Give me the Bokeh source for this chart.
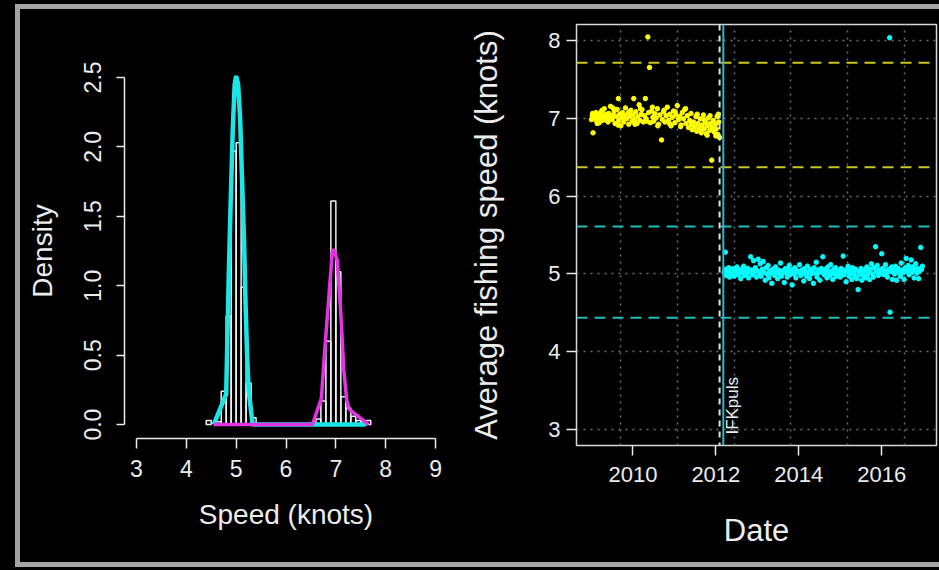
import math
from bokeh.plotting import figure
from bokeh.models import FixedTicker, Row, Column, Span
from bokeh.core.properties import value
from bokeh.embed import file_html
from bokeh.resources import INLINE

FONT = "Liberation Sans"
TXT = "#ececec"

# ---------------- Left panel data (histogram of speeds + fitted densities)
hist_left = [4.4, 4.6, 4.7, 4.8, 4.9, 5.0, 5.1, 5.2, 5.3,
             6.5, 6.6, 6.7, 6.8, 6.9, 7.0, 7.1, 7.2, 7.3, 7.4, 7.5, 7.6]
hist_density = [0.03, 0.02, 0.24, 0.78, 1.97, 2.03, 0.99, 0.30, 0.05,
                0.01, 0.04, 0.17, 0.60, 1.61, 1.10, 0.20, 0.12, 0.06, 0.03, 0.02, 0.03]
bin_width = 0.1

cyan_curve_x = [4.55, 4.80, 4.82, 4.85, 4.89, 4.93, 4.97, 5.00, 5.04, 5.08, 5.12, 5.16, 5.19, 5.22, 5.25, 5.33, 6.50, 7.60]
cyan_curve_y = [0.00, 0.22, 0.55, 1.05, 1.60, 2.10, 2.45, 2.51, 2.45, 2.20, 1.75, 1.30, 0.85, 0.50, 0.25, 0.00, 0.00, 0.00]

magenta_curve_x = [4.55, 6.53, 6.71, 6.78, 6.86, 6.93, 6.96, 7.03, 7.10, 7.16, 7.22, 7.27, 7.66]
magenta_curve_y = [0.00, 0.00, 0.19, 0.55, 0.92, 1.25, 1.26, 1.18, 0.80, 0.39, 0.17, 0.11, 0.00]

left_xticks = [3, 4, 5, 6, 7, 8, 9]
left_yticks = [0, 0.5, 1.0, 1.5, 2.0, 2.5]
left_ytick_labels = ["0.0", "0.5", "1.0", "1.5", "2.0", "2.5"]

# ---------------- Right panel data (average fishing speed over time)
yellow_year = [2009.00, 2009.02, 2009.04, 2009.05, 2009.07, 2009.09, 2009.11, 2009.13, 2009.15, 2009.17,
               2009.19, 2009.21, 2009.23, 2009.25, 2009.27, 2009.29, 2009.31, 2009.33, 2009.35, 2009.37,
               2009.40, 2009.42, 2009.44, 2009.46, 2009.48, 2009.50, 2009.53, 2009.55, 2009.57, 2009.60,
               2009.62, 2009.65, 2009.66, 2009.68, 2009.71, 2009.73, 2009.75, 2009.78, 2009.80, 2009.82,
               2009.85, 2009.88, 2009.90, 2009.93, 2009.95, 2009.98, 2010.00, 2010.02, 2010.04, 2010.07,
               2010.10, 2010.12, 2010.15, 2010.17, 2010.20, 2010.22, 2010.25, 2010.28, 2010.30, 2010.32,
               2010.36, 2010.38, 2010.40, 2010.42, 2010.45, 2010.48, 2010.50, 2010.53, 2010.56, 2010.59,
               2010.62, 2010.65, 2010.69, 2010.71, 2010.74, 2010.77, 2010.80, 2010.83, 2010.86, 2010.89,
               2010.92, 2010.95, 2010.98, 2011.01, 2011.04, 2011.07, 2011.10, 2011.13, 2011.16, 2011.19,
               2011.22, 2011.25, 2011.28, 2011.31, 2011.34, 2011.37, 2011.40, 2011.43, 2011.46, 2011.49,
               2011.52, 2011.54, 2011.57, 2011.60, 2011.62, 2011.65, 2011.67, 2011.70, 2011.72, 2011.75,
               2011.77, 2011.80, 2011.82, 2011.85, 2011.87, 2011.90, 2011.91, 2011.94, 2011.96, 2011.99,
               2012.01, 2012.03, 2012.05, 2012.07, 2012.09,
               2009.03, 2009.14, 2009.26, 2009.38, 2009.52, 2009.64, 2009.77, 2009.91, 2010.05, 2010.18,
               2010.33, 2010.47, 2010.60, 2010.75, 2010.88, 2011.02, 2011.15, 2011.27, 2011.41, 2011.55,
               2011.63, 2011.71, 2011.79, 2011.86, 2011.93, 2012.00, 2012.06]
yellow_speed = [6.98, 7.03, 6.81, 7.05, 6.99, 7.02, 7.07, 6.96, 7.01, 7.04,
                6.94, 7.00, 7.08, 7.02, 6.97, 7.03, 7.12, 6.99, 7.05, 7.01,
                6.95, 7.06, 7.00, 7.15, 7.03, 6.98, 7.04, 7.09, 6.93, 7.02,
                7.11, 7.25, 6.97, 7.05, 6.90, 7.01, 7.07, 6.95, 7.03, 7.13,
                6.99, 7.06, 6.92, 7.02, 7.10, 6.96, 7.04, 7.25, 6.98, 7.08,
                6.93, 7.02, 7.17, 6.97, 7.05, 7.11, 6.95, 7.03, 7.25, 6.99,
                8.04, 7.07, 7.65, 6.94, 7.09, 7.01, 6.96, 7.06, 7.00, 7.12,
                6.92, 7.04, 6.72, 6.98, 7.08, 6.95, 7.03, 7.14, 6.97, 7.05,
                6.90, 7.01, 7.09, 6.94, 7.04, 7.16, 6.98, 7.02, 6.91, 7.07,
                6.99, 7.11, 6.93, 7.03, 6.88, 6.97, 7.06, 6.85, 6.95, 6.89,
                7.02, 6.83, 6.93, 6.87, 6.99, 6.81, 6.91, 7.04, 6.86, 6.95,
                6.80, 6.90, 7.00, 6.84, 6.93, 6.46, 6.88, 6.97, 6.82, 6.92,
                6.86, 7.02, 6.79, 6.95, 6.75,
                7.06, 6.93, 7.10, 6.97, 7.13, 6.91, 7.00, 7.08, 6.92, 7.12,
                6.96, 7.14, 6.90, 7.10, 6.93, 7.08, 6.89, 7.12, 6.92, 7.05,
                6.84, 6.98, 6.78, 7.03, 6.85, 6.77, 7.05]

cyan_year = [2012.20, 2012.22, 2012.23, 2012.25, 2012.27, 2012.29, 2012.31, 2012.33, 2012.35, 2012.37,
             2012.40, 2012.42, 2012.44, 2012.46, 2012.48, 2012.51, 2012.53, 2012.55, 2012.58, 2012.60,
             2012.62, 2012.65, 2012.67, 2012.69, 2012.72, 2012.74, 2012.77, 2012.79, 2012.81, 2012.84,
             2012.86, 2012.88, 2012.91, 2012.93, 2012.95, 2012.98, 2013.00, 2013.02, 2013.05, 2013.07,
             2013.09, 2013.12, 2013.14, 2013.16, 2013.19, 2013.21, 2013.23, 2013.26, 2013.28, 2013.30,
             2013.33, 2013.35, 2013.37, 2013.40, 2013.42, 2013.44, 2013.47, 2013.49, 2013.51, 2013.54,
             2013.56, 2013.58, 2013.61, 2013.63, 2013.65, 2013.68, 2013.70, 2013.72, 2013.75, 2013.77,
             2013.79, 2013.82, 2013.84, 2013.86, 2013.89, 2013.91, 2013.93, 2013.96, 2014.00, 2014.02,
             2014.05, 2014.07, 2014.09, 2014.12, 2014.14, 2014.16, 2014.19, 2014.21, 2014.23, 2014.26,
             2014.28, 2014.30, 2014.33, 2014.35, 2014.37, 2014.40, 2014.42, 2014.44, 2014.47, 2014.49,
             2014.51, 2014.54, 2014.56, 2014.58, 2014.61, 2014.63, 2014.65, 2014.68, 2014.70, 2014.72,
             2014.75, 2014.77, 2014.79, 2014.82, 2014.84, 2014.86, 2014.89, 2014.91, 2014.93, 2014.96,
             2015.00, 2015.02, 2015.05, 2015.07, 2015.09, 2015.12, 2015.14, 2015.16, 2015.19, 2015.21,
             2015.23, 2015.26, 2015.28, 2015.30, 2015.33, 2015.35, 2015.37, 2015.40, 2015.43, 2015.45,
             2015.47, 2015.50, 2015.52, 2015.54, 2015.57, 2015.59, 2015.61, 2015.64, 2015.66, 2015.68,
             2015.71, 2015.73, 2015.75, 2015.78, 2015.80, 2015.82, 2015.85, 2015.87, 2015.89, 2015.92,
             2015.94, 2015.96, 2016.00, 2016.02, 2016.05, 2016.07, 2016.09, 2016.12, 2016.14, 2016.16,
             2016.19, 2016.20, 2016.22, 2016.24, 2016.26, 2016.29, 2016.31, 2016.33, 2016.36, 2016.38,
             2016.40, 2016.43, 2016.45, 2016.47, 2016.50, 2016.52, 2016.54, 2016.57, 2016.59, 2016.61,
             2016.64, 2016.66, 2016.68, 2016.71, 2016.73, 2016.75, 2016.78, 2016.80, 2016.82, 2016.85,
             2016.87, 2016.89, 2016.92, 2016.94, 2016.96, 2016.98]
cyan_speed = [5.02, 5.06, 5.28, 4.98, 5.04, 5.01, 5.08, 4.96, 5.03, 5.05,
              5.00, 5.07, 4.97, 5.04, 5.02, 5.09, 4.99, 5.05, 5.01, 4.94,
              5.06, 5.03, 5.10, 4.98, 5.04, 5.00, 5.07, 4.95, 5.03, 5.22,
              5.05, 4.99, 5.17, 5.02, 5.08, 4.96, 5.04, 5.19, 5.01, 5.13,
              4.97, 5.06, 5.16, 5.02, 4.92, 5.08, 5.00, 5.11, 4.95, 5.04,
              5.01, 4.88, 5.06, 5.03, 4.98, 5.09, 5.02, 4.94, 5.05, 5.00,
              5.14, 4.97, 5.04, 5.02, 4.89, 5.07, 5.01, 4.96, 5.05, 5.11,
              4.99, 5.03, 4.86, 5.06, 5.00, 5.08, 4.95, 5.04, 5.02, 5.12,
              4.98, 5.05, 5.01, 4.91, 5.07, 5.03, 4.97, 5.10, 5.02, 4.94,
              5.06, 5.00, 5.04, 4.88, 5.08, 5.01, 5.15, 4.96, 5.05, 5.02,
              4.92, 5.07, 5.03, 5.22, 4.99, 5.06, 5.01, 4.95, 5.09, 5.04,
              4.98, 5.12, 5.02, 4.93, 5.06, 5.00, 5.08, 4.97, 5.04, 5.01,
              4.96, 5.07, 5.02, 5.23, 4.99, 5.05, 4.90, 5.03, 5.10, 4.97,
              5.04, 5.01, 4.93, 5.08, 5.02, 4.98, 5.06, 4.94, 4.80, 5.03,
              4.99, 5.07, 4.92, 5.02, 4.97, 5.05, 4.95, 5.09, 4.99, 5.03,
              4.93, 5.06, 5.13, 5.00, 4.96, 5.08, 5.35, 5.03, 5.11, 4.98,
              5.05, 5.02, 5.26, 5.07, 4.99, 5.04, 5.12, 5.01, 4.96, 5.06,
              8.03, 4.51, 5.03, 5.09, 4.93, 5.05, 5.00, 5.10, 4.92, 5.04,
              5.07, 5.01, 4.97, 5.14, 5.05, 5.02, 4.93, 5.08, 5.20, 5.03,
              5.11, 4.99, 5.06, 5.18, 5.02, 5.09, 4.95, 5.05, 5.13, 5.01,
              5.07, 4.94, 5.04, 5.34, 5.06, 5.10]

yellow_limits = [7.71, 6.37]
cyan_limits = [5.61, 4.44]
change_year_dashed = 2012.09
change_year_solid = 2012.18
event_label = "IFKpuls"
event_label_pos = (2012.40, 2.94)
grid_years = [2009.70, 2011.07, 2012.44, 2013.81, 2015.18, 2016.54]
right_xticks = [2010, 2012, 2014, 2016]
right_yticks = [3, 4, 5, 6, 7, 8]


def style_axis(ax, tick_size, label_size, tick_out, lab_standoff, ax_standoff):
    ax.axis_label_text_font = FONT
    ax.axis_label_text_font_style = "normal"
    ax.axis_label_text_color = TXT
    ax.axis_label_text_font_size = label_size
    ax.axis_label_standoff = ax_standoff
    ax.major_label_text_font = FONT
    ax.major_label_text_color = TXT
    ax.major_label_text_font_size = tick_size
    ax.major_label_standoff = lab_standoff
    ax.major_tick_out = tick_out
    ax.major_tick_in = 0
    ax.minor_tick_line_color = None
    ax.major_tick_line_color = TXT
    ax.major_tick_line_width = 1.5
    ax.axis_line_color = TXT
    ax.axis_line_width = 1.5


# ---------------- Left figure
p1 = figure(width=446, height=553, x_range=(2.76, 9.24), y_range=(-0.1, 2.6),
            output_backend="svg", toolbar_location=None,
            background_fill_color="black", border_fill_color="black",
            min_border_left=104, min_border_right=19, min_border_top=54, min_border_bottom=124)
p1.outline_line_color = None
p1.grid.grid_line_color = None

hist_right = [l + bin_width for l in hist_left]
p1.quad(left=hist_left, right=hist_right, bottom=0, top=hist_density,
        fill_color=None, line_color="#f0f0f0", line_width=1.5)
p1.line(cyan_curve_x, cyan_curve_y, line_color="#19e6e6", line_width=4.5)
p1.line(magenta_curve_x, magenta_curve_y, line_color="#e632e6", line_width=3.5)

p1.xaxis.ticker = FixedTicker(ticks=left_xticks)
p1.xaxis.bounds = (left_xticks[0], left_xticks[-1])
p1.xaxis.axis_label = "Speed (knots)"
style_axis(p1.xaxis[0], "23px", "28px", 10, 11, 19)

p1.yaxis.ticker = FixedTicker(ticks=left_yticks)
p1.yaxis.bounds = (left_yticks[0], left_yticks[-1])
p1.yaxis.major_label_overrides = {t: s for t, s in zip(left_yticks, left_ytick_labels)}
p1.yaxis.major_label_orientation = "vertical"
p1.yaxis.axis_label = "Density"
style_axis(p1.yaxis[0], "23px", "28px", 8, 15, 24)

# ---------------- Right figure
p2 = figure(width=473, height=553, x_range=(2008.64, 2017.32), y_range=(2.8, 8.2),
            output_backend="svg", toolbar_location=None,
            background_fill_color="black", border_fill_color="black",
            min_border_left=107, min_border_right=3, min_border_top=15, min_border_bottom=117)
p2.outline_line_color = "#d8d8d8"
p2.outline_line_width = 1.5
p2.xgrid.ticker = FixedTicker(ticks=grid_years)
p2.ygrid.ticker = FixedTicker(ticks=right_yticks)
p2.grid.grid_line_color = "#6e6e6e"
p2.grid.grid_line_dash = "2 5"
p2.grid.grid_line_width = 1.5

p2.scatter(yellow_year, yellow_speed, size=4.5, color="#ffff00", marker="circle")
p2.scatter(cyan_year, cyan_speed, size=4.5, color="#00ffff", marker="circle")

for v in yellow_limits:
    p2.add_layout(Span(location=v, dimension="width", line_color="#c8c820",
                       line_width=2, line_dash="11 7"))
for v in cyan_limits:
    p2.add_layout(Span(location=v, dimension="width", line_color="#22bcbc",
                       line_width=2, line_dash="11 7"))
p2.add_layout(Span(location=change_year_dashed, dimension="height", line_color="#e0e0e0",
                   line_width=2, line_dash="6 5"))
p2.add_layout(Span(location=change_year_solid, dimension="height", line_color="#2fb4cc",
                   line_width=2))
p2.text(x=[event_label_pos[0]], y=[event_label_pos[1]], text=[event_label],
        angle=math.pi / 2, text_font=value(FONT), text_font_size="17px",
        text_color=TXT, text_align="left", text_baseline="middle")

p2.xaxis.ticker = FixedTicker(ticks=right_xticks)
p2.xaxis.major_label_overrides = {t: str(t) for t in right_xticks}
p2.xaxis.axis_label = "Date"
style_axis(p2.xaxis[0], "22px", "31px", 10, 11, 28)
p2.xaxis.axis_line_color = None

p2.yaxis.ticker = FixedTicker(ticks=right_yticks)
p2.yaxis.major_label_overrides = {t: str(t) for t in right_yticks}
p2.yaxis.axis_label = "Average fishing speed (knots)"
style_axis(p2.yaxis[0], "22px", "31px", 10, 6, 41)
p2.yaxis.axis_line_color = None

for p in (p1, p2):
    try:
        p.frame_align = False
    except Exception:
        pass

inner = Row(children=[p1, p2],
            styles={"border-top": "5px solid #a4a4a4", "border-left": "5px solid #a4a4a4",
                    "border-bottom": "5px solid #a4a4a4", "background-color": "#000000"})
layout = Column(children=[inner],
                styles={"background-color": "#000000", "padding-left": "15px",
                        "padding-top": "4px", "padding-bottom": "3px"})

open("out.html", "w").write(file_html(layout, INLINE))
